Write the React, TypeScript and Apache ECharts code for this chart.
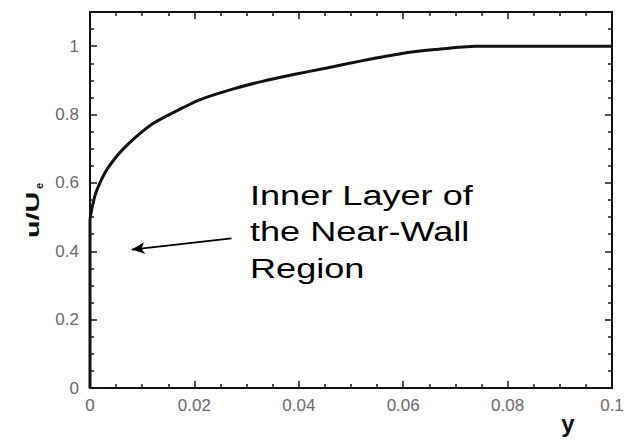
import React, { useEffect, useRef } from "react";
import * as echarts from "echarts";

// Velocity profile u/Ue versus wall distance y
const profileY = [0, 0, 0.0003, 0.001, 0.0019, 0.0032, 0.0054, 0.0072, 0.0092, 0.0122, 0.0152, 0.021, 0.027, 0.033, 0.039, 0.0456, 0.052, 0.0595, 0.066, 0.074, 0.1];
const profileU = [0, 0.49, 0.52, 0.565, 0.6, 0.638, 0.683, 0.712, 0.74, 0.775, 0.8, 0.843, 0.873, 0.897, 0.917, 0.937, 0.957, 0.978, 0.99, 1.0, 1.0];

// Red marker line (inner layer edge)
const markerX = 0.0152;
const markerSpan = [-0.012, 1.083];

// Arrow annotation: tail -> tip, in data coordinates
const arrowTail = [0.0271, 0.438];
const arrowTip = [0.008, 0.405];

// Axis scales: range, labelled step, minor subdivisions per labelled step
const xTicks = { min: 0, max: 0.1, major: 0.02, split: 4 };
const yTicks = { min: 0, max: 1.1, major: 0.2, split: 4 };

const annotationLines = ["Inner Layer of", "the Near-Wall", "Region"];

const FONT = "'Liberation Sans', Arial, sans-serif";

const GRID = { left: 90, top: 12, width: 522, height: 376 };

function tickValues(t: { min: number; max: number; major: number; split: number }) {
  const minor = t.major / t.split;
  const n = Math.round((t.max - t.min) / minor);
  const out: { v: number; major: boolean }[] = [];
  for (let i = 0; i <= n; i++) {
    out.push({ v: Math.round((t.min + i * minor) * 1e6) / 1e6, major: i % t.split === 0 });
  }
  return out;
}

export default function App() {
  const ref = useRef<HTMLDivElement>(null);

  useEffect(() => {
    if (!ref.current) return;
    const chart = echarts.init(ref.current, undefined, { renderer: "svg" });

    // tick lengths in pixels converted to data units of each axis
    const xPerPx = (xTicks.max - xTicks.min) / GRID.width;
    const yPerPx = (yTicks.max - yTicks.min) / GRID.height;
    const tickStyle = { color: "#1a1a1a", width: 1.5, type: "solid" };

    const tickLines: any[] = [];
    tickValues(xTicks).forEach(({ v, major }) => {
      const len = (major ? 7 : 4) * yPerPx;
      tickLines.push([{ coord: [v, yTicks.min], lineStyle: tickStyle }, { coord: [v, yTicks.min + len] }]);
      tickLines.push([{ coord: [v, yTicks.max], lineStyle: tickStyle }, { coord: [v, yTicks.max - len] }]);
    });
    tickValues(yTicks).forEach(({ v, major }) => {
      const len = (major ? 7 : 4) * xPerPx;
      tickLines.push([{ coord: [xTicks.min, v], lineStyle: tickStyle }, { coord: [xTicks.min + len, v] }]);
      tickLines.push([{ coord: [xTicks.max, v], lineStyle: tickStyle }, { coord: [xTicks.max - len, v] }]);
    });

    const option: any = {
      animation: false,
      backgroundColor: "#fff",
      grid: {
        ...GRID,
        show: true,
        borderColor: "#111",
        borderWidth: 2,
        backgroundColor: "transparent",
      },
      xAxis: {
        type: "value",
        min: xTicks.min,
        max: xTicks.max,
        interval: xTicks.major,
        axisLine: { show: true, onZero: false, lineStyle: { color: "#111", width: 2 } },
        axisTick: { show: false },
        axisLabel: { show: true, color: "#6a6a6a", fontSize: 17, fontFamily: FONT, margin: 9 },
        splitLine: { show: false },
      },
      yAxis: {
        type: "value",
        min: yTicks.min,
        max: yTicks.max,
        interval: yTicks.major,
        axisLine: { show: true, onZero: false, lineStyle: { color: "#111", width: 2 } },
        axisTick: { show: false },
        axisLabel: { show: true, color: "#6a6a6a", fontSize: 17, fontFamily: FONT, margin: 11, showMaxLabel: false },
        splitLine: { show: false },
      },
      series: [
        {
          type: "line",
          data: profileY.map((y, i) => [y, profileU[i]]),
          showSymbol: false,
          smooth: 0.25,
          clip: false,
          lineStyle: { color: "#111", width: 3 },
          markLine: {
            silent: true,
            animation: false,
            symbol: "none",
            label: { show: false },
            emphasis: { disabled: true },
            lineStyle: { color: "#1a1a1a", width: 1.5, type: "solid" },
            data: [
              ...tickLines,
              [
                { coord: [markerX, markerSpan[0]], lineStyle: { color: "#e3151c", width: 3, type: "solid" } },
                { coord: [markerX, markerSpan[1]] },
              ],
              [
                { coord: arrowTail, symbol: "none", lineStyle: { color: "#000", width: 1.8, type: "solid" } },
                { coord: arrowTip, symbol: "arrow", symbolSize: [9, 13] },
              ],
            ],
          },
        },
      ],
      graphic: [
        {
          type: "text",
          x: 250,
          y: 177,
          scaleX: 1.29,
          style: {
            text: annotationLines.join("\n"),
            fontSize: 28,
            lineHeight: 36.5,
            fontFamily: FONT,
            fill: "#000",
          },
        },
        {
          type: "group",
          x: 33,
          y: 238,
          rotation: Math.PI / 2,
          children: [
            {
              type: "text",
              x: 0,
              y: 0,
              scaleX: 1.6,
              style: {
                text: "u/U",
                fontSize: 18,
                fontWeight: "bold",
                fontFamily: FONT,
                fill: "#111",
                align: "left",
                verticalAlign: "middle",
              },
            },
            {
              type: "text",
              x: 49,
              y: 6,
              style: {
                text: "e",
                fontSize: 11,
                fontWeight: "bold",
                fontFamily: FONT,
                fill: "#111",
                align: "left",
                verticalAlign: "middle",
              },
            },
          ],
        },
        {
          type: "text",
          x: 568,
          y: 423,
          style: {
            text: "y",
            fontSize: 24,
            fontWeight: "bold",
            fontFamily: FONT,
            fill: "#111",
            align: "center",
            verticalAlign: "middle",
          },
        },
      ],
    };

    chart.setOption(option);
    return () => chart.dispose();
  }, []);

  return <div ref={ref} style={{ position: "absolute", left: 0, top: 0, width: 635, height: 440 }} />;
}
